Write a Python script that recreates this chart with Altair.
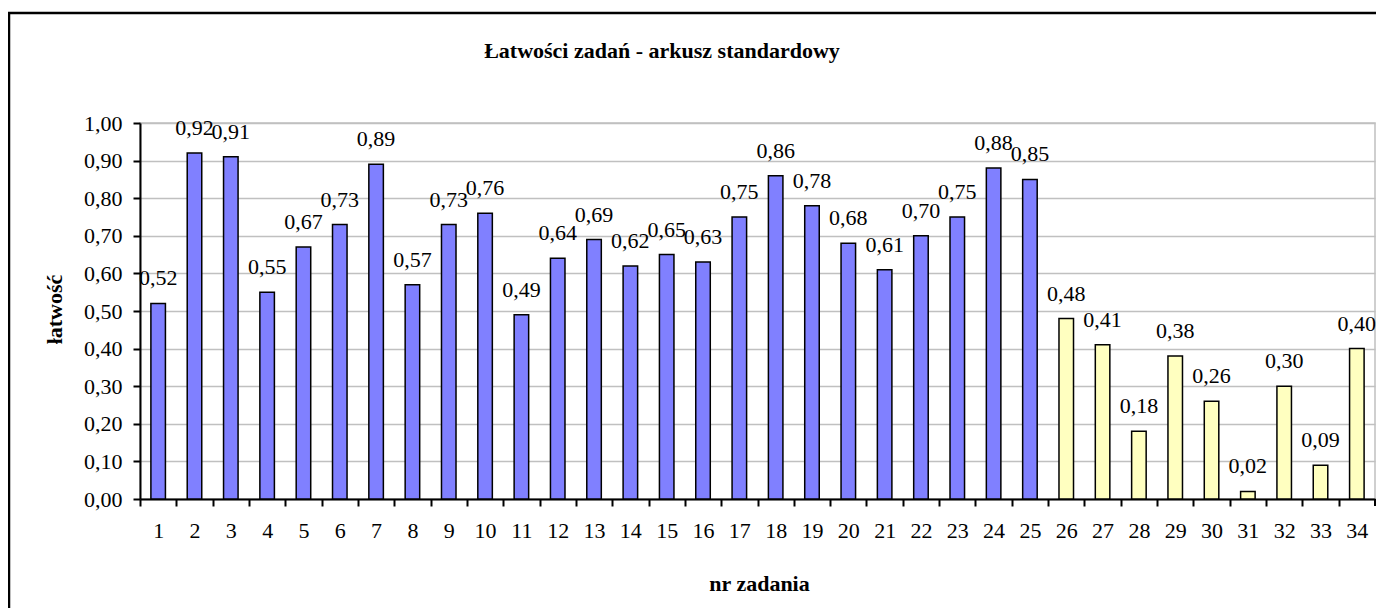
import altair as alt
import pandas as pd

# ---- data ----
tasks = [str(i) for i in range(1, 35)]
values = [0.52, 0.92, 0.91, 0.55, 0.67, 0.73, 0.89, 0.57, 0.73, 0.76,
          0.49, 0.64, 0.69, 0.62, 0.65, 0.63, 0.75, 0.86, 0.78, 0.68,
          0.61, 0.70, 0.75, 0.88, 0.85, 0.48, 0.41, 0.18, 0.38, 0.26,
          0.02, 0.30, 0.09, 0.40]
groups = ["zamknięte"] * 25 + ["otwarte"] * 9
y_ticks = [0.0, 0.1, 0.2, 0.3, 0.4, 0.5, 0.6, 0.7, 0.8, 0.9, 1.0]
title_text = "Łatwości zadań - arkusz standardowy"

df = pd.DataFrame({"zadanie": tasks, "latwosc": values, "grupa": groups})

W, H = 1235, 376
FONT = "Liberation Serif"
step = W / len(tasks)

x = alt.X(
    "zadanie:N",
    sort=tasks,
    scale=alt.Scale(paddingInner=0.6, paddingOuter=0.3),
    axis=alt.Axis(
        title="nr zadania",
        labelAngle=0,
        tickOffset=-step / 2,
        labelOffset=step / 2,
        labelPadding=14,
        labelFont=FONT,
        labelFontSize=22,
        labelColor="black",
        tickSize=7,
        tickWidth=2,
        tickColor="black",
        domainColor="black",
        domainWidth=2,
        grid=False,
        titleFont=FONT,
        titleFontSize=22,
        titleFontWeight="bold",
        titleColor="black",
        titleX=619,
        titleY=84,
        titleBaseline="middle",
        titleAlign="center",
    ),
)

y = alt.Y(
    "latwosc:Q",
    scale=alt.Scale(domain=[0, 1], nice=False),
    axis=alt.Axis(
        title="łatwość",
        values=y_ticks,
        labelExpr="replace(format(datum.value, '.2f'), '.', ',')",
        labelPadding=11,
        labelFont=FONT,
        labelFontSize=22,
        labelColor="black",
        tickSize=7,
        tickWidth=2,
        tickColor="black",
        domainColor="black",
        domainWidth=2,
        grid=True,
        gridColor="#C0C0C0",
        gridWidth=1.5,
        titleFont=FONT,
        titleFontSize=22,
        titleFontWeight="bold",
        titleColor="black",
        titleX=-86,
        titleY=186,
        titleAngle=-90,
        titleBaseline="middle",
        titleAlign="center",
    ),
)

base = alt.Chart(df).encode(x=x, y=y)

bars = base.mark_bar(stroke="black", strokeWidth=1.5).encode(
    color=alt.Color(
        "grupa:N",
        scale=alt.Scale(domain=["zamknięte", "otwarte"], range=["#8080FF", "#FFFFC0"]),
        legend=None,
    )
)

labels = base.transform_calculate(
    label="replace(format(datum.latwosc, '.2f'), '.', ',')"
).mark_text(
    baseline="alphabetic", dy=-18, font=FONT, fontSize=22, color="black"
).encode(text="label:N")

one = pd.DataFrame({"k": [0], "t": [title_text]})
end_tick = alt.Chart(one).mark_rule(color="black", strokeWidth=2).encode(
    x=alt.value(W), y=alt.value(H), y2=alt.value(H + 7)
)
border = alt.Chart(one).mark_rect(
    fillOpacity=0, stroke="black", strokeWidth=2.5
).encode(
    x=alt.value(-131), x2=alt.value(1300), y=alt.value(-110), y2=alt.value(520)
)
title = alt.Chart(one).mark_text(
    font=FONT, fontSize=22, fontWeight="bold", baseline="alphabetic",
    align="center", color="black"
).encode(text="t:N", x=alt.value(522), y=alt.value(-65))

chart = alt.layer(border, bars, labels, end_tick, title).properties(
    width=W,
    height=H,
    background="white",
    autosize=alt.AutoSizeParams(type="none"),
    padding={"left": 132, "top": 115, "right": 1, "bottom": 109},
).configure_view(
    stroke="#C0C0C0", strokeWidth=1.5
)

chart.save("out.html", embed_options={"renderer": "svg", "actions": False})
